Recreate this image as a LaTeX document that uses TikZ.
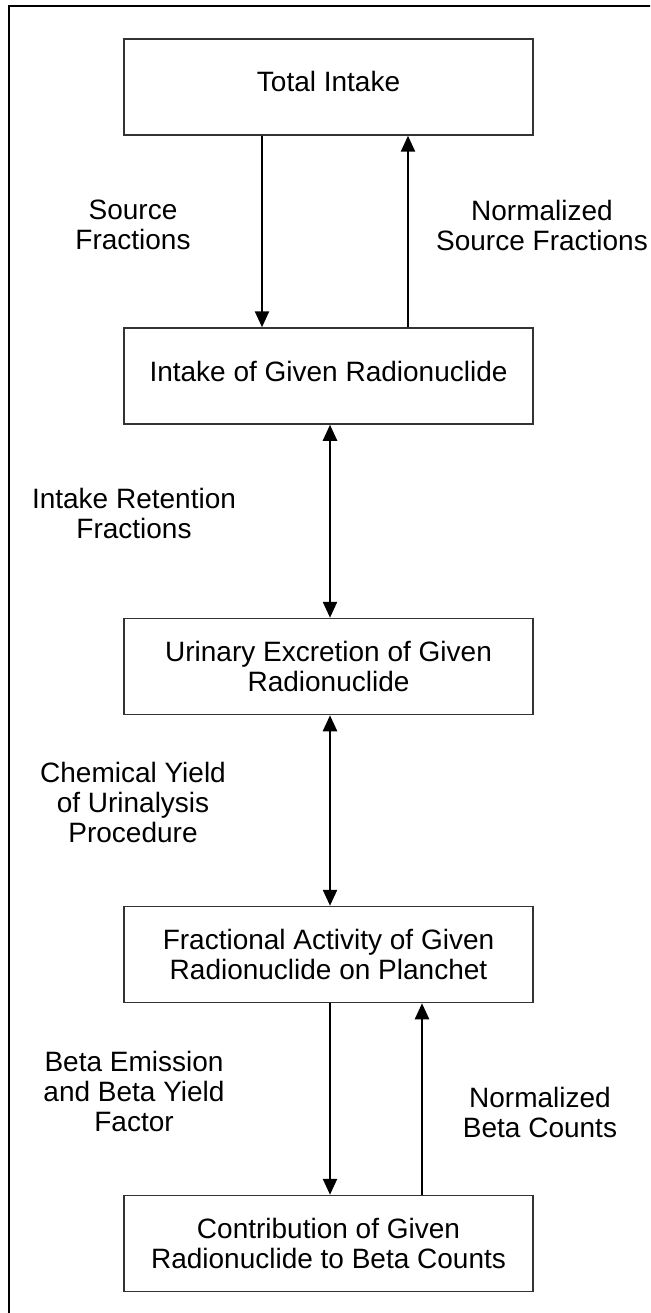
\documentclass[tikz,border=0pt]{standalone}
\usepackage{fontspec}
\setmainfont{Liberation Sans}
\usetikzlibrary{arrows.meta}
\begin{document}
\begin{tikzpicture}[x=1pt,y=-1pt,
  stagebox/.style={draw=black!80,line width=1.5pt,minimum width=409pt,minimum height=96pt,
    inner sep=0pt,align=center,font=\fontsize{28}{30}\selectfont},
  oneline/.style={text height=20pt,text depth=10pt},
  lbl/.style={align=center,inner sep=0pt,font=\fontsize{28}{30}\selectfont},
  flow/.style={line width=2.4pt,-{Triangle[width=14pt,length=16pt]}},
  both/.style={line width=2.4pt,{Triangle[width=14pt,length=16pt]}-{Triangle[width=14pt,length=16pt]}}]
\useasboundingbox (0,0) rectangle (650,1313);
\begin{scope}
\clip (0,0) rectangle (650,1313);
\draw[line width=2pt] (9,1320) -- (9,6) -- (660,6);
\end{scope}
% boxes
\node[stagebox,oneline] (b1) at (328.5,87) {Total Intake};
\node[stagebox,oneline] (b2) at (328.5,376) {Intake of Given Radionuclide};
\node[stagebox] (b3) at (328.5,666.5) {Urinary Excretion of Given\\Radionuclide};
\node[stagebox] (b4) at (328.5,954.5) {Fractional Activity of Given\\Radionuclide on Planchet};
\node[stagebox] (b5) at (328.5,1243.5) {Contribution of Given\\Radionuclide to Beta Counts};
% arrow columns
\coordinate (c1) at (262,0);
\coordinate (c2) at (408,0);
\coordinate (c3) at (330,0);
\coordinate (c4) at (330,0);
\coordinate (c5) at (422,0);
\draw[flow] (b1.south -| c1) -- (b2.north -| c1);
\draw[flow] (b2.north -| c2) -- (b1.south -| c2);
\draw[both] (b2.south -| c3) -- (b3.north -| c3);
\draw[both] (b3.south -| c3) -- (b4.north -| c3);
\draw[flow] (b4.south -| c4) -- (b5.north -| c4);
\draw[flow] (b5.north -| c5) -- (b4.south -| c5);
% labels
\node[lbl] (l1) at (133,225) {Source\\Fractions};
\node[lbl] (l2) at (542,225) {Normalized\\Source Fractions};
\node[lbl] (l3) at (134,513) {Intake Retention\\Fractions};
\node[lbl] (l4) at (133,802) {Chemical Yield\\of Urinalysis\\Procedure};
\node[lbl] (l5) at (134,1091) {Beta Emission\\and Beta Yield\\Factor};
\node[lbl] (l6) at (540,1112) {Normalized\\Beta Counts};
\end{tikzpicture}
\end{document}
